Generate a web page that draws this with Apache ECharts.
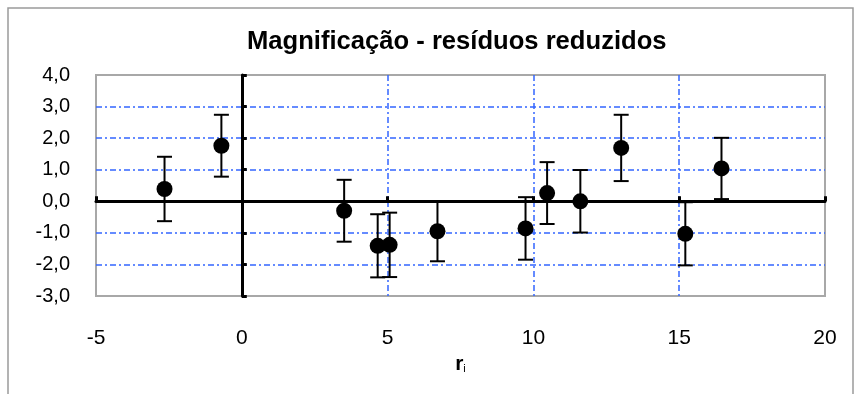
<!DOCTYPE html>
<html><head><meta charset="utf-8">
<script src="https://cdn.jsdelivr.net/npm/echarts@6/dist/echarts.min.js"></script>
<style>html,body{margin:0;padding:0;background:#fff}#c{width:856px;height:394px}</style>
</head><body><div id="c"></div>
<script>
const titleText = 'Magnificação - resíduos reduzidos';
const xName = 'r';
const xNameSub = 'i';
const xValues = [-2.65, -0.70, 3.51, 4.66, 5.07, 6.71, 9.73, 10.47, 11.61, 13.01, 15.21, 16.45];
const yValues = [0.39, 1.76, -0.30, -1.41, -1.38, -0.95, -0.86, 0.26, 0.0, 1.69, -1.03, 1.04];
const yErrors = [1.02, 0.98, 0.98, 1.00, 1.02, 0.95, 0.99, 0.98, 0.99, 1.05, 1.00, 0.97];
const xMin = -5, xMax = 20, xStep = 5;
const yMin = -3, yMax = 4, yStep = 1;

const points = xValues.map((x, i) => [x, yValues[i]]);
const bars = xValues.map((x, i) => [x, yValues[i] - yErrors[i], yValues[i] + yErrors[i]]);

const gridBlue = {color: '#3366ff', width: 1.5, type: [6, 3, 2, 3]};
const fmtY = v => v.toFixed(1).replace('.', ',');

const chart = echarts.init(document.getElementById('c'), null, {renderer: 'canvas'});
chart.setOption({
  animation: false,
  backgroundColor: '#fff',
  title: {
    text: titleText, left: 242, top: 24,
    textStyle: {fontFamily: 'Liberation Sans, Arial', fontSize: 25.6, fontWeight: 'bold', color: '#000'}
  },
  graphic: [{
    type: 'rect', shape: {x: 8, y: 8, width: 845, height: 420},
    style: {fill: 'none', stroke: '#9a9a9a', lineWidth: 1.5}, z: 100
  }],
  grid: {left: 96, top: 75, width: 729, height: 221, show: true, borderColor: '#a8a8a8', borderWidth: 2, containLabel: false},
  xAxis: [{
    type: 'value', min: xMin, max: xMax, interval: xStep, position: 'bottom',
    axisLine: {show: false, onZero: false}, axisTick: {show: false},
    axisLabel: {fontFamily: 'Liberation Sans, Arial', fontSize: 21, color: '#000', margin: 32},
    splitLine: {show: true, showMinLine: false, showMaxLine: false, lineStyle: gridBlue},
    name: '{r|' + xName + '}{s|' + xNameSub + '}', nameLocation: 'middle', nameGap: 56,
    nameTextStyle: {rich: {
      r: {fontFamily: 'Liberation Sans, Arial', fontSize: 21, fontWeight: 'bold', color: '#000'},
      s: {fontFamily: 'Liberation Sans, Arial', fontSize: 11, color: '#000', verticalAlign: 'bottom', padding: [8, 0, 0, 0]}
    }}
  }, {
    type: 'value', min: xMin, max: xMax, interval: xStep, position: 'bottom', z: 1,
    axisLine: {show: true, onZero: true, onZeroAxisIndex: 0, lineStyle: {color: '#000', width: 3}},
    axisTick: {show: true, inside: true, length: 5, lineStyle: {color: '#000', width: 3}},
    axisLabel: {show: false}, splitLine: {show: false}
  }],
  yAxis: [{
    type: 'value', min: yMin, max: yMax, interval: yStep, position: 'left',
    axisLine: {show: false, onZero: false}, axisTick: {show: false},
    axisLabel: {fontFamily: 'Liberation Sans, Arial', fontSize: 20, color: '#000', margin: 26, formatter: fmtY},
    splitLine: {show: true, showMinLine: false, showMaxLine: false, lineStyle: gridBlue}
  }, {
    type: 'value', min: yMin, max: yMax, interval: yStep, position: 'left', z: 1,
    axisLine: {show: true, onZero: true, onZeroAxisIndex: 0, lineStyle: {color: '#000', width: 3}},
    axisTick: {show: true, inside: true, length: 5, lineStyle: {color: '#000', width: 3}},
    axisLabel: {show: false}, splitLine: {show: false}
  }],
  series: [{
    type: 'custom', xAxisIndex: 0, yAxisIndex: 0, z: 3,
    data: bars,
    renderItem: function (params, api) {
      const lo = api.coord([api.value(0), api.value(1)]);
      const hi = api.coord([api.value(0), api.value(2)]);
      const hw = 7.5;
      const st = {stroke: '#000', lineWidth: 2};
      return {type: 'group', children: [
        {type: 'line', shape: {x1: lo[0], y1: lo[1], x2: hi[0], y2: hi[1]}, style: st},
        {type: 'line', shape: {x1: lo[0] - hw, y1: lo[1], x2: lo[0] + hw, y2: lo[1]}, style: st},
        {type: 'line', shape: {x1: hi[0] - hw, y1: hi[1], x2: hi[0] + hw, y2: hi[1]}, style: st}
      ]};
    }
  }, {
    type: 'scatter', xAxisIndex: 0, yAxisIndex: 0, z: 4,
    data: points, symbol: 'circle', symbolSize: 16,
    itemStyle: {color: '#000', opacity: 1}
  }]
});
</script></body></html>
